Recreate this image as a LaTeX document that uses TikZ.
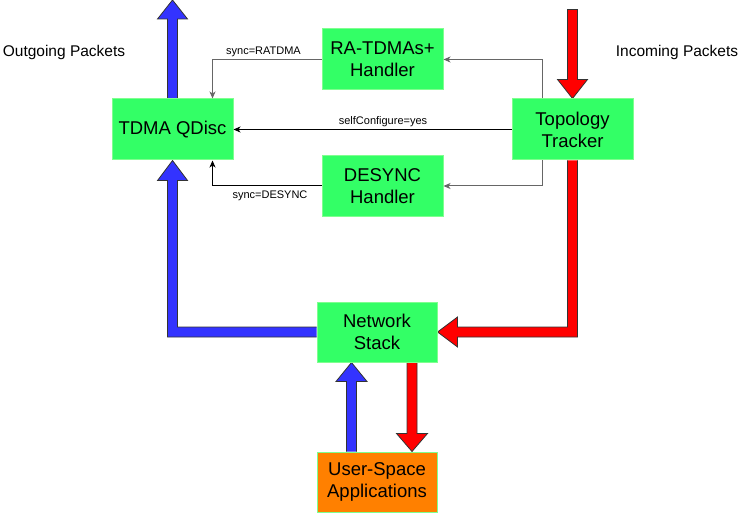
\documentclass[tikz,border=0pt]{standalone}
\usepackage{fontspec}
\setmainfont{Liberation Sans}
\usetikzlibrary{calc,arrows.meta,backgrounds}
\definecolor{boxgreen}{HTML}{33FF66}
\definecolor{boxedge}{HTML}{7FFF8F}
\definecolor{apporange}{HTML}{FF8000}
\definecolor{pktblue}{HTML}{3333FF}
\definecolor{pktred}{HTML}{FF0000}
\definecolor{connGray}{HTML}{666666}
\begin{document}
\begin{tikzpicture}[x=1pt,y=-1pt,
  box/.style={draw=boxedge,line width=1pt,fill=boxgreen,minimum width=121pt,minimum height=61pt,inner sep=0pt,align=center,font=\fontsize{18.5}{22}\selectfont},
  appbox/.style={box,fill=apporange,minimum width=120pt,minimum height=60pt},
  fatblue/.style={fill=pktblue,draw=black!80,line width=0.8pt,line join=miter},
  fatred/.style={fill=pktred,draw=black!80,line width=0.8pt,line join=miter},
  conn/.style={draw=connGray,line width=1pt,-{Stealth[length=7pt,width=6pt,inset=2pt]}},
  connb/.style={conn,draw=black},
  small/.style={font=\fontsize{11}{13}\selectfont,inner sep=0pt},
  side/.style={font=\fontsize{15.5}{18}\selectfont,inner sep=0pt}]
\useasboundingbox (0,0) rectangle (741,513);

\node[box] (tdma) at (172.5,129.5) {TDMA QDisc};
\node[box] (ra) at (382.5,59.5) {RA-TDMAs+\\Handler};
\node[box] (topo) at (572.5,129.5) {Topology\\Tracker};
\node[box,minimum height=60pt] (desync) at (382.5,186) {DESYNC\\Handler};
\node[box,minimum width=120pt,minimum height=60pt] (net) at (377,332) {Network\\Stack};
\node[appbox] (user) at (377,482) {User-Space\\Applications};

\begin{scope}[on background layer]
% outgoing
\draw[fatblue] ($(tdma.north)+(-5,0)$) -- ($(tdma.north)+(-5,-79.5)$) -- ($(tdma.north)+(-15,-79.5)$) -- ($(tdma.north)+(0,-98.5)$) -- ($(tdma.north)+(15,-79.5)$) -- ($(tdma.north)+(5,-79.5)$) -- ($(tdma.north)+(5,0)$);
% network stack -> tdma
\draw[fatblue] ($(net.west)+(0,-5)$) -- ($(tdma.south |- net.west)+(5,-5)$) -- ($(tdma.south)+(5,20)$) -- ($(tdma.south)+(15,20)$) -- (tdma.south) -- ($(tdma.south)+(-15,20)$) -- ($(tdma.south)+(-5,20)$) -- ($(tdma.south |- net.west)+(-5,5)$) -- ($(net.west)+(0,5)$);
% incoming
\draw[fatred] ($(topo.north)+(-5,-89)$) -- ($(topo.north)+(5,-89)$) -- ($(topo.north)+(5,-19)$) -- ($(topo.north)+(15,-19)$) -- (topo.north) -- ($(topo.north)+(-15,-19)$) -- ($(topo.north)+(-5,-19)$) -- cycle;
% topology -> network stack
\draw[fatred] ($(topo.south)+(-5,0)$) -- ($(topo.south |- net.east)+(-5,-5)$) -- ($(net.east)+(20,-5)$) -- ($(net.east)+(20,-15)$) -- (net.east) -- ($(net.east)+(20,15)$) -- ($(net.east)+(20,5)$) -- ($(topo.south |- net.east)+(5,5)$) -- ($(topo.south)+(5,0)$);
% user -> net
\draw[fatblue] ($(user.north)+(-30.5,0)$) -- ($(net.south)+(-30.5,19)$) -- ($(net.south)+(-41,19)$) -- ($(net.south)+(-25.5,0)$) -- ($(net.south)+(-10,19)$) -- ($(net.south)+(-20.5,19)$) -- ($(user.north)+(-20.5,0)$);
% net -> user
\draw[fatred] ($(net.south)+(30,0)$) -- ($(net.south)+(30,71)$) -- ($(net.south)+(19.5,71)$) -- ($(user.north)+(35,0)$) -- ($(net.south)+(50.5,71)$) -- ($(net.south)+(40,71)$) -- ($(net.south)+(40,0)$);
\end{scope}

% thin connectors
\draw[conn] ($(topo.north)+(-30.5,0)$) |- (ra.east);
\draw[conn] ($(topo.south)+(-30.5,0)$) |- (desync.east);
\draw[connb] (topo.west) -- (tdma.east);
\draw[conn] (ra.west) -| ($(tdma.north)+(40,0)$);
\draw[connb] (desync.west) -| ($(tdma.south)+(40,0)$);

% labels
\node[small] (lra) at (263.5,52) {sync=RATDMA};
\node[small] (lself) at (383,122) {selfConfigure=yes};
\node[small] (ldes) at (270,196) {sync=DESYNC};
\node[side] (lout) at (64,52) {Outgoing Packets};
\node[side] (lin) at (677,52) {Incoming Packets};
\end{tikzpicture}
\end{document}
